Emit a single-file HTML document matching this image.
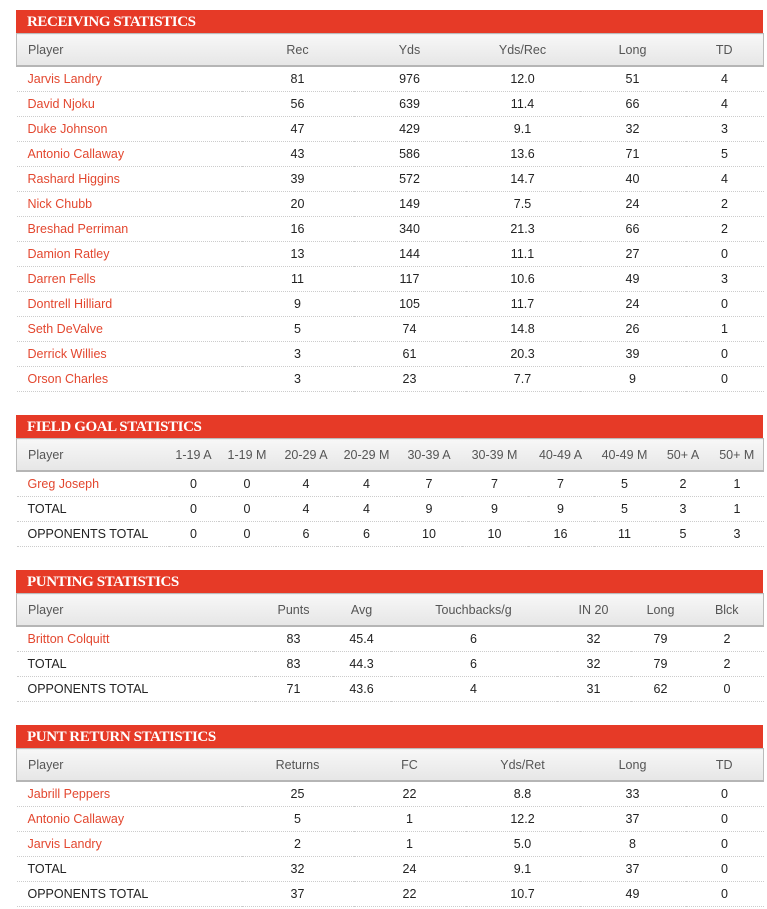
<!DOCTYPE html>
<html><head><style>
body{margin:0;background:#fff;width:767px;height:909px;position:relative;font-family:"Liberation Sans",sans-serif;overflow:hidden}
.sec{position:absolute;left:16px;width:747px}
.t{background:#e63a27;color:#fff;height:23px;line-height:24px;font-family:"Liberation Serif",serif;font-weight:bold;font-size:15px;padding-left:11px;letter-spacing:-0.4px}
table{border-collapse:collapse;width:747px;table-layout:fixed}
th{height:31px;background:linear-gradient(#f7f7f7,#e6e6e6);border-top:1px solid #bbb;border-bottom:2px solid #b5b5b5;color:#555;font-weight:normal;font-size:12.5px;text-align:center;padding:0}
th:first-child{border-left:1px solid #bbb}th:last-child{border-right:1px solid #bbb}
td{height:24px;border-bottom:1px dotted #ccc;text-align:center;font-size:12.5px;color:#222;padding:0}
th:first-child,td:first-child{text-align:left;padding-left:11px}
td.n{color:#e3472f}
</style></head><body>

<div class="sec" style="top:10px"><div class="t">RECEIVING STATISTICS</div>
<table><colgroup><col style="width:225px"><col style="width:112px"><col style="width:112px"><col style="width:114px"><col style="width:106px"><col style="width:78px"></colgroup>
<tr><th>Player</th><th>Rec</th><th>Yds</th><th>Yds/Rec</th><th>Long</th><th>TD</th></tr>
<tr><td class="n">Jarvis Landry</td><td>81</td><td>976</td><td>12.0</td><td>51</td><td>4</td></tr>
<tr><td class="n">David Njoku</td><td>56</td><td>639</td><td>11.4</td><td>66</td><td>4</td></tr>
<tr><td class="n">Duke Johnson</td><td>47</td><td>429</td><td>9.1</td><td>32</td><td>3</td></tr>
<tr><td class="n">Antonio Callaway</td><td>43</td><td>586</td><td>13.6</td><td>71</td><td>5</td></tr>
<tr><td class="n">Rashard Higgins</td><td>39</td><td>572</td><td>14.7</td><td>40</td><td>4</td></tr>
<tr><td class="n">Nick Chubb</td><td>20</td><td>149</td><td>7.5</td><td>24</td><td>2</td></tr>
<tr><td class="n">Breshad Perriman</td><td>16</td><td>340</td><td>21.3</td><td>66</td><td>2</td></tr>
<tr><td class="n">Damion Ratley</td><td>13</td><td>144</td><td>11.1</td><td>27</td><td>0</td></tr>
<tr><td class="n">Darren Fells</td><td>11</td><td>117</td><td>10.6</td><td>49</td><td>3</td></tr>
<tr><td class="n">Dontrell Hilliard</td><td>9</td><td>105</td><td>11.7</td><td>24</td><td>0</td></tr>
<tr><td class="n">Seth DeValve</td><td>5</td><td>74</td><td>14.8</td><td>26</td><td>1</td></tr>
<tr><td class="n">Derrick Willies</td><td>3</td><td>61</td><td>20.3</td><td>39</td><td>0</td></tr>
<tr><td class="n">Orson Charles</td><td>3</td><td>23</td><td>7.7</td><td>9</td><td>0</td></tr>
</table></div>

<div class="sec" style="top:415px"><div class="t">FIELD GOAL STATISTICS</div>
<table><colgroup><col style="width:152px"><col style="width:50px"><col style="width:57px"><col style="width:61px"><col style="width:60px"><col style="width:65px"><col style="width:66px"><col style="width:66px"><col style="width:62px"><col style="width:55px"><col style="width:53px"></colgroup>
<tr><th>Player</th><th>1-19 A</th><th>1-19 M</th><th>20-29 A</th><th>20-29 M</th><th>30-39 A</th><th>30-39 M</th><th>40-49 A</th><th>40-49 M</th><th>50+ A</th><th>50+ M</th></tr>
<tr><td class="n">Greg Joseph</td><td>0</td><td>0</td><td>4</td><td>4</td><td>7</td><td>7</td><td>7</td><td>5</td><td>2</td><td>1</td></tr>
<tr><td>TOTAL</td><td>0</td><td>0</td><td>4</td><td>4</td><td>9</td><td>9</td><td>9</td><td>5</td><td>3</td><td>1</td></tr>
<tr><td>OPPONENTS TOTAL</td><td>0</td><td>0</td><td>6</td><td>6</td><td>10</td><td>10</td><td>16</td><td>11</td><td>5</td><td>3</td></tr>
</table></div>

<div class="sec" style="top:570px"><div class="t">PUNTING STATISTICS</div>
<table><colgroup><col style="width:238px"><col style="width:78px"><col style="width:58px"><col style="width:166px"><col style="width:74px"><col style="width:60px"><col style="width:73px"></colgroup>
<tr><th>Player</th><th>Punts</th><th>Avg</th><th>Touchbacks/g</th><th>IN 20</th><th>Long</th><th>Blck</th></tr>
<tr><td class="n">Britton Colquitt</td><td>83</td><td>45.4</td><td>6</td><td>32</td><td>79</td><td>2</td></tr>
<tr><td>TOTAL</td><td>83</td><td>44.3</td><td>6</td><td>32</td><td>79</td><td>2</td></tr>
<tr><td>OPPONENTS TOTAL</td><td>71</td><td>43.6</td><td>4</td><td>31</td><td>62</td><td>0</td></tr>
</table></div>

<div class="sec" style="top:725px"><div class="t">PUNT RETURN STATISTICS</div>
<table><colgroup><col style="width:225px"><col style="width:112px"><col style="width:112px"><col style="width:114px"><col style="width:106px"><col style="width:78px"></colgroup>
<tr><th>Player</th><th>Returns</th><th>FC</th><th>Yds/Ret</th><th>Long</th><th>TD</th></tr>
<tr><td class="n">Jabrill Peppers</td><td>25</td><td>22</td><td>8.8</td><td>33</td><td>0</td></tr>
<tr><td class="n">Antonio Callaway</td><td>5</td><td>1</td><td>12.2</td><td>37</td><td>0</td></tr>
<tr><td class="n">Jarvis Landry</td><td>2</td><td>1</td><td>5.0</td><td>8</td><td>0</td></tr>
<tr><td>TOTAL</td><td>32</td><td>24</td><td>9.1</td><td>37</td><td>0</td></tr>
<tr><td>OPPONENTS TOTAL</td><td>37</td><td>22</td><td>10.7</td><td>49</td><td>0</td></tr>
</table></div>
</body></html>
